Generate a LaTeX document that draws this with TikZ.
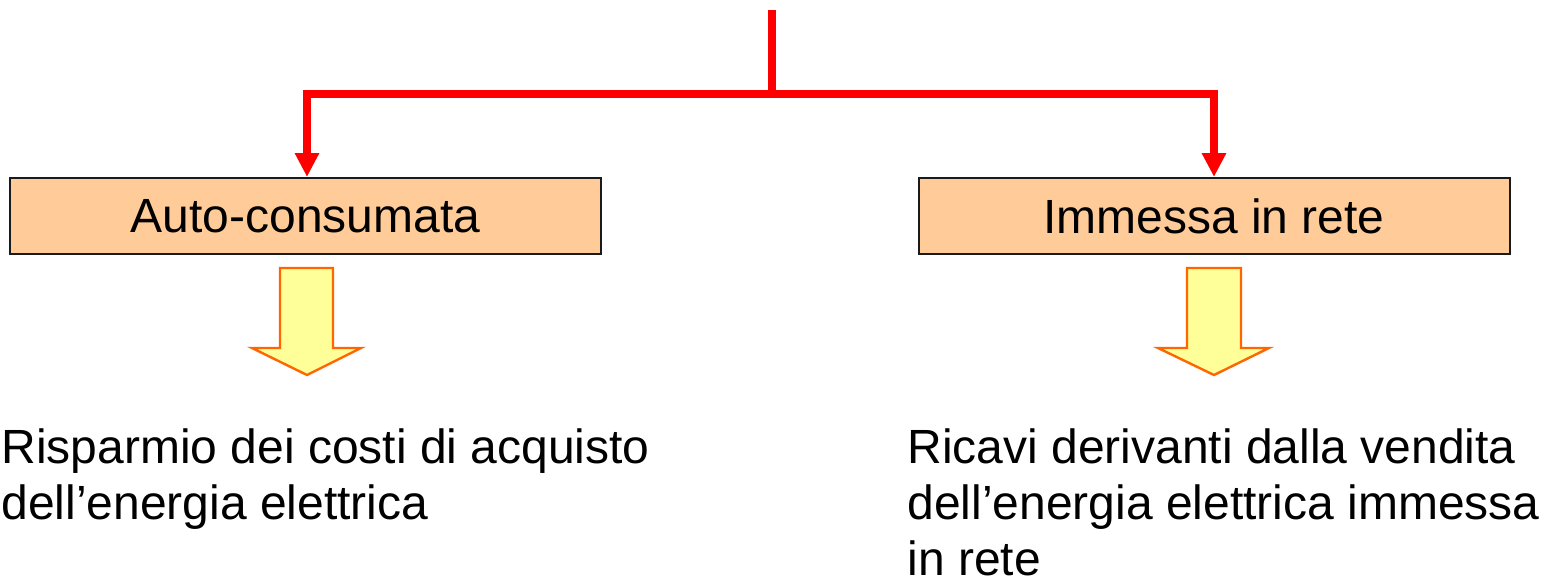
\documentclass[tikz,border=0pt]{standalone}
\usepackage{fontspec}
\setmainfont{Liberation Sans}
\usetikzlibrary{arrows.meta}
\definecolor{boxfill}{HTML}{FFCC99}
\definecolor{boxline}{HTML}{1A1A1A}
\definecolor{blkfill}{HTML}{FFFF99}
\definecolor{blkline}{HTML}{FF6600}
\definecolor{linkred}{HTML}{FF0000}
\tikzset{
  catbox/.style={draw=boxline, line width=1pt, fill=boxfill, minimum width=295.5pt, minimum height=38pt, inner sep=0pt, font=\fontsize{24}{28.25}\selectfont},
  redline/.style={draw=linkred, line width=4pt},
  redarrow/.style={redline, -{Triangle[length=12pt,width=11.5pt]}},
  blockarrow/.style={fill=blkfill, draw=blkline, line width=1.2pt, line join=miter},
  outtext/.style={anchor=base west, align=left, inner sep=0pt, font=\fontsize{24}{28}\selectfont}
}
\begin{document}
\begin{tikzpicture}[x=0.5pt, y=-0.5pt]
\useasboundingbox (0,0) rectangle (1543,579);
\node[catbox] (L) at (305.5,216) {Auto-consumata};
\node[catbox] (R) at (1214,216) {Immessa in rete};
\coordinate (top) at (772,10);
\coordinate (junc) at (772,94);
\draw[redline] (top) -- (junc);
\draw[redarrow] (junc) -| ([xshift=0.75pt]L.north);
\draw[redarrow] (junc) -| (R.north);
\draw[blockarrow] (280,268) -- (333,268) -- (333,348) -- (361,348) -- (307,375) -- (252,348) -- (280,348) -- cycle;
\draw[blockarrow] (1187,268) -- (1241,268) -- (1241,348) -- (1269,348) -- (1214,375) -- (1158,348) -- (1187,348) -- cycle;
\node[outtext] (LT) at (1,519) {Risparmio dei costi di acquisto\\dell’energia elettrica};
\node[outtext] (RT) at (907,575) {Ricavi derivanti dalla vendita\\dell’energia elettrica immessa\\in rete};
\end{tikzpicture}
\end{document}
